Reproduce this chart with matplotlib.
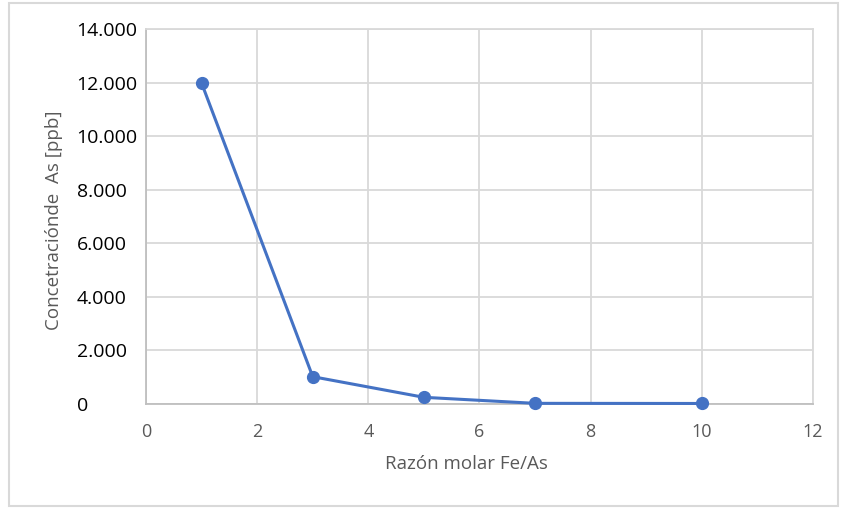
import matplotlib.pyplot as plt
from matplotlib.ticker import FuncFormatter, MultipleLocator
from matplotlib.patches import Rectangle

# Razón molar Fe/As vs concentración de As (ppb)
razon = [1, 3, 5, 7, 10]
conc = [11980, 1020, 250, 25, 20]

xlabel = "Razón molar Fe/As"
ylabel = "Concetraciónde  As [ppb]"

plt.rcParams['font.family'] = ['Open Sans', 'DejaVu Sans']

fig = plt.figure(figsize=(8.41, 5.08), dpi=100)
ax = fig.add_axes([0.1736, 0.2047, 0.7931, 0.7383])

ax.plot(razon, conc, color="#4472C4", lw=2.2, marker="o", ms=8.5, zorder=3, clip_on=False)

ax.set_xlim(0, 12)
ax.set_ylim(0, 14000)
ax.xaxis.set_major_locator(MultipleLocator(2))
ax.yaxis.set_major_locator(MultipleLocator(2000))
ax.yaxis.set_major_formatter(FuncFormatter(lambda v, p: f"{int(v):,}".replace(",", ".")))

ax.grid(True, color="#d9d9d9", lw=1.3)
ax.set_axisbelow(True)
for s in ax.spines.values():
    s.set_color("#d9d9d9")
    s.set_linewidth(1.3)
ax.spines["left"].set_color("#bfbfbf")
ax.spines["bottom"].set_color("#bfbfbf")

ax.tick_params(axis="both", length=0)
ax.tick_params(axis="y", labelsize=14, labelcolor="black", pad=50)
for t in ax.get_yticklabels():
    t.set_horizontalalignment("left")
ax.tick_params(axis="x", labelsize=13, labelcolor="#595959", pad=14)

ax.set_xlabel(xlabel, fontsize=13.5, color="#595959")
ax.xaxis.set_label_coords(0.48, -0.135)
ax.set_ylabel(ylabel, fontsize=13.5, color="#595959")
ax.yaxis.set_label_coords(-0.125, 0.49)

# outer chart border
fig.patches.append(Rectangle((0.011, 0.004), 0.986, 0.99, transform=fig.transFigure,
                             fill=False, ec="#d9d9d9", lw=1.5))

fig.savefig("out.png", dpi=100)
